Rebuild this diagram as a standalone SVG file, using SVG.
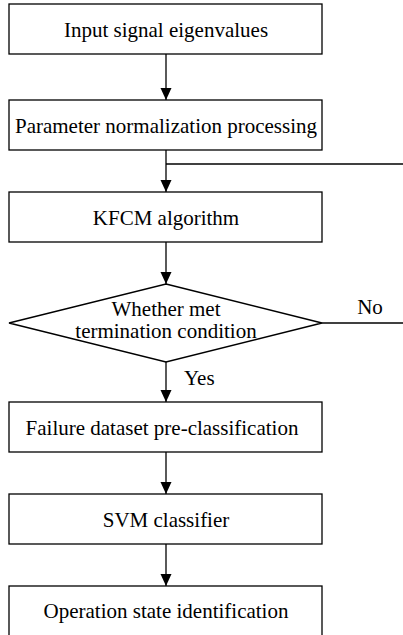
<svg xmlns="http://www.w3.org/2000/svg" width="403" height="635" viewBox="0 0 403 635">
<style>
.box{fill:#fff;stroke:#000;stroke-width:1.3}
.ln{fill:none;stroke:#000;stroke-width:1.3}
.t{font-family:'Liberation Serif','Times New Roman','DejaVu Serif',serif;font-size:21px;fill:#000}
.c{text-anchor:middle}
</style>
<defs>
<marker id="ah" markerUnits="userSpaceOnUse" markerWidth="12" markerHeight="12" viewBox="0 0 12 12" refX="12" refY="6" orient="auto">
<path d="M0,0.5 L12,6 L0,11.5 Z" fill="#000"/>
</marker>
</defs>
<g id="connectors">
<line class="ln" x1="166" y1="54" x2="166" y2="100" marker-end="url(#ah)"/>
<line class="ln" x1="166" y1="150" x2="166" y2="192" marker-end="url(#ah)"/>
<line class="ln" x1="166" y1="242" x2="166" y2="284" marker-end="url(#ah)"/>
<line class="ln" x1="166" y1="362" x2="166" y2="402" marker-end="url(#ah)"/>
<line class="ln" x1="166" y1="452" x2="166" y2="494" marker-end="url(#ah)"/>
<line class="ln" x1="166" y1="544" x2="166" y2="586" marker-end="url(#ah)"/>
<line class="ln" x1="166" y1="164" x2="403" y2="164"/>
<line class="ln" x1="322" y1="323" x2="403" y2="323"/>
<text x="370" y="314" class="t c" font-family="Liberation Serif, serif">No</text>
<text x="184" y="385" class="t" font-family="Liberation Serif, serif">Yes</text>
</g>
<g id="n1">
<rect class="box" x="9" y="4" width="313" height="50"/>
<text x="166" y="36.5" class="t c" font-family="Liberation Serif, serif">Input signal eigenvalues</text>
</g>
<g id="n2">
<rect class="box" x="9" y="100" width="313" height="50"/>
<text x="166" y="132.5" class="t c" font-family="Liberation Serif, serif">Parameter normalization processing</text>
</g>
<g id="n3">
<rect class="box" x="9" y="192" width="313" height="50"/>
<text x="166" y="224.5" class="t c" font-family="Liberation Serif, serif">KFCM algorithm</text>
</g>
<g id="n4">
<polygon class="box" points="166,284 322,323 166,362 9,323"/>
<text x="166" y="315.5" class="t c" font-family="Liberation Serif, serif">Whether met</text>
<text x="166" y="338" class="t c" font-family="Liberation Serif, serif">termination condition</text>
</g>
<g id="n5">
<rect class="box" x="9" y="402" width="313" height="50"/>
<text x="162" y="434.5" class="t c" font-family="Liberation Serif, serif">Failure dataset pre-classification</text>
</g>
<g id="n6">
<rect class="box" x="9" y="494" width="313" height="50"/>
<text x="166" y="526.5" class="t c" font-family="Liberation Serif, serif">SVM classifier</text>
</g>
<g id="n7">
<rect class="box" x="9" y="586" width="313" height="50"/>
<text x="166" y="618" class="t c" font-family="Liberation Serif, serif">Operation state identification</text>
</g>
</svg>
